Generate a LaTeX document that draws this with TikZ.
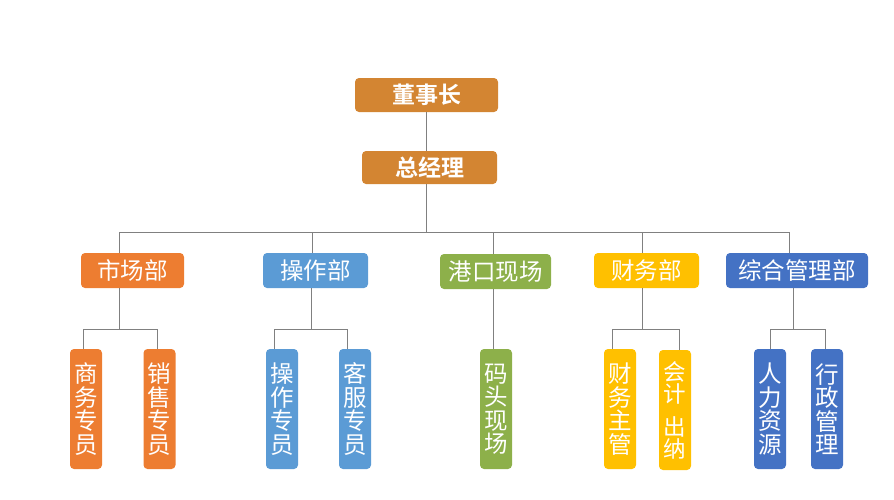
\documentclass[tikz,border=0pt]{standalone}
\usepackage{fontspec}
\newfontfamily\cjk{Noto Sans CJK SC}
\newfontfamily\cjkb{Noto Sans CJK SC Bold}
\definecolor{topc}{HTML}{D38532}
\definecolor{orangec}{HTML}{ED7D31}
\definecolor{bluec}{HTML}{5B9BD5}
\definecolor{greenc}{HTML}{8DB04A}
\definecolor{goldc}{HTML}{FFC000}
\definecolor{navyc}{HTML}{4472C4}
\definecolor{linec}{HTML}{808080}
\begin{document}
\begin{tikzpicture}[x=1pt,y=-1pt,
  box/.style={rounded corners=4pt, inner sep=0pt, text=white, align=center},
  topbox/.style={box, fill=topc, minimum height=34pt, font=\cjkb\fontsize{23}{25}\selectfont},
  dept/.style={box, minimum height=35pt, font=\cjk\fontsize{23.5}{25}\selectfont},
  sub/.style={box, minimum width=32pt, minimum height=120pt, text width=32pt, font=\cjk\fontsize{23.5}{23.5}\selectfont},
  ln/.style={draw=linec, line width=0.9pt}]
\useasboundingbox (0,0) rectangle (894,499);
% top
\node[topbox, minimum width=143pt] (dsz) at (426.5,95) {董事长};
\node[topbox, minimum width=135pt, minimum height=33pt] (zjl) at (429.5,167.5) {总经理};
% departments
\node[dept, fill=orangec, minimum width=103pt] (sc) at (132.5,270.5) {市场部};
\node[dept, fill=bluec, minimum width=105pt] (cz) at (315.5,270.5) {操作部};
\node[dept, fill=greenc, minimum width=111pt] (gk) at (495.5,271.5) {港口现场};
\node[dept, fill=goldc, minimum width=105pt] (cw) at (646.5,270.5) {财务部};
\node[dept, fill=navyc, minimum width=142pt] (zh) at (797,270.5) {综合管理部};
% sub units
\node[sub, fill=orangec] (swzy) at (86,409) {商\\务\\专\\员};
\node[sub, fill=orangec] (xszy) at (159.5,409) {销\\售\\专\\员};
\node[sub, fill=bluec] (czzy) at (282,409) {操\\作\\专\\员};
\node[sub, fill=bluec] (kfzy) at (355,409) {客\\服\\专\\员};
\node[sub, fill=greenc] (mtxc) at (496,409) {码\\头\\现\\场};
\node[sub, fill=goldc] (cwzg) at (620,409) {财\\务\\主\\管};
\node[sub, fill=goldc, font=\cjk\fontsize{22.5}{22}\selectfont] (kjcn) at (675,410) {会\\计\\[11pt]出\\纳};
\node[sub, fill=navyc] (rlzy) at (770,409) {人\\力\\资\\源};
\node[sub, fill=navyc] (xzgl) at (827,409) {行\\政\\管\\理};
% bus coordinates
\coordinate (bus) at (426,232);
\coordinate (busL) at (119,232);
\coordinate (busR) at (789,232);
\coordinate (bsc) at (119,329);
\coordinate (bcz) at (311,329);
\coordinate (bcw) at (642,329);
\coordinate (bzh) at (793,329);
% connectors
\draw[ln] (dsz.south -| bus) -- (zjl.north -| bus);
\draw[ln] (zjl.south -| bus) -- (bus);
\draw[ln] (busL) -- (busR);
\draw[ln] (busL) -- (busL |- sc.north);
\draw[ln] (312,232) -- (312,253);
\draw[ln] (493,232) -- (493,254);
\draw[ln] (642,232) -- (642,253);
\draw[ln] (busR) -- (busR |- zh.north);
% 市场部
\draw[ln] (bsc |- sc.south) -- (bsc);
\draw[ln] (83,329 |- swzy.north) -- (83,329) -- (157,329) -- (157,329 |- xszy.north);
% 操作部
\draw[ln] (bcz |- cz.south) -- (bcz);
\draw[ln] (274,329 |- czzy.north) -- (274,329) -- (347,329) -- (347,329 |- kfzy.north);
% 港口现场
\draw[ln] (493,289) -- (493,329 |- mtxc.north);
% 财务部
\draw[ln] (bcw |- cw.south) -- (bcw);
\draw[ln] (612,329 |- cwzg.north) -- (612,329) -- (679,329) -- (679,329 |- kjcn.north);
% 综合管理部
\draw[ln] (bzh |- zh.south) -- (bzh);
\draw[ln] (770,329 |- rlzy.north) -- (770,329) -- (825,329) -- (825,329 |- xzgl.north);
\end{tikzpicture}
\end{document}
